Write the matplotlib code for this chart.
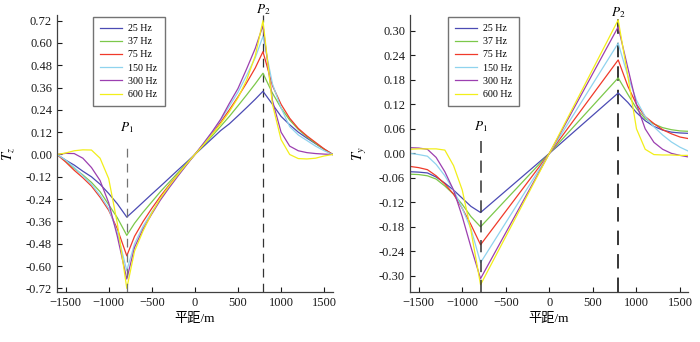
import matplotlib

matplotlib.use("Agg")
import matplotlib.pyplot as plt

plt.rcParams["font.family"] = ["Liberation Serif", "Noto Sans CJK SC"]
plt.rcParams["mathtext.fontset"] = "stix"

labels = ["25 Hz", "37 Hz", "75 Hz", "150 Hz", "300 Hz", "600 Hz"]
colors = ["#4b4bb4", "#7cc84a", "#f03a2a", "#8fd3ee", "#9c3fb0", "#f2ef1a"]
p1_x = -790
p2_x = 790

# left panel, T_z
x_tz = [-1600, -1500, -1400, -1300, -1200, -1100, -1000, -900, -790,
        -700, -600, -500, -400, -300, -200, -100, 0,
        100, 200, 300, 400, 500, 600, 700, 790,
        900, 1000, 1100, 1200, 1300, 1400, 1500, 1600]
tz_25 = [0, -0.03, -0.057, -0.09, -0.12, -0.16, -0.21, -0.265, -0.337,
         -0.299, -0.256, -0.213, -0.171, -0.128, -0.085, -0.043, 0,
         0.043, 0.086, 0.129, 0.165, 0.208, 0.252, 0.297, 0.34,
         0.27, 0.205, 0.16, 0.12, 0.088, 0.058, 0.028, 0]
tz_37 = [0, -0.035, -0.075, -0.11, -0.15, -0.2, -0.27, -0.34, -0.435,
         -0.37, -0.31, -0.255, -0.2, -0.15, -0.1, -0.05, 0,
         0.05, 0.1, 0.152, 0.205, 0.262, 0.32, 0.38, 0.437,
         0.33, 0.25, 0.185, 0.135, 0.095, 0.06, 0.028, 0]
tz_75 = [0, -0.04, -0.085, -0.125, -0.17, -0.23, -0.3, -0.4, -0.545,
         -0.44, -0.36, -0.29, -0.225, -0.165, -0.11, -0.055, 0,
         0.055, 0.115, 0.175, 0.24, 0.31, 0.385, 0.465, 0.553,
         0.37, 0.27, 0.195, 0.14, 0.1, 0.065, 0.03, 0]
tz_150 = [0, -0.03, -0.07, -0.115, -0.16, -0.22, -0.29, -0.42, -0.625,
          -0.48, -0.385, -0.31, -0.24, -0.175, -0.115, -0.057, 0,
          0.058, 0.12, 0.185, 0.26, 0.335, 0.425, 0.52, 0.635,
          0.38, 0.25, 0.15, 0.105, 0.075, 0.045, 0.02, 0]
tz_300 = [0, 0.006, 0.005, -0.02, -0.07, -0.14, -0.26, -0.44, -0.67,
          -0.5, -0.4, -0.32, -0.245, -0.18, -0.118, -0.058, 0,
          0.06, 0.122, 0.19, 0.275, 0.355, 0.46, 0.57, 0.693,
          0.29, 0.12, 0.045, 0.02, 0.01, 0.005, 0.002, 0]
tz_600 = [0, 0.008, 0.02, 0.025, 0.024, -0.02, -0.13, -0.37, -0.72,
          -0.52, -0.41, -0.315, -0.235, -0.17, -0.11, -0.053, 0,
          0.052, 0.108, 0.165, 0.23, 0.305, 0.4, 0.53, 0.72,
          0.27, 0.08, 0.0, -0.022, -0.024, -0.02, -0.008, 0]

# right panel, T_y
x_ty = [-1600, -1500, -1400, -1300, -1200, -1100, -1000, -900, -790,
        0, 790, 900, 1000, 1100, 1200, 1300, 1400, 1500, 1600]
ty_25 = [-0.045, -0.046, -0.048, -0.058, -0.073, -0.09, -0.11, -0.13, -0.145,
         0, 0.148, 0.125, 0.1, 0.08, 0.066, 0.057, 0.052, 0.05, 0.049]
ty_37 = [-0.051, -0.052, -0.055, -0.063, -0.08, -0.1, -0.125, -0.155, -0.18,
         0, 0.185, 0.145, 0.11, 0.085, 0.072, 0.063, 0.058, 0.055, 0.054]
ty_75 = [-0.032, -0.035, -0.04, -0.055, -0.075, -0.1, -0.135, -0.175, -0.224,
         0, 0.229, 0.165, 0.12, 0.09, 0.073, 0.058, 0.048, 0.04, 0.036]
ty_150 = [0.0, -0.003, -0.007, -0.027, -0.055, -0.09, -0.135, -0.185, -0.268,
          0, 0.27, 0.19, 0.13, 0.09, 0.065, 0.045, 0.028, 0.015, 0.005]
ty_300 = [0.014, 0.013, 0.01, -0.01, -0.045, -0.09, -0.155, -0.23, -0.307,
          0, 0.31, 0.21, 0.12, 0.06, 0.027, 0.01, 0.0, -0.005, -0.009]
ty_600 = [0.01, 0.011, 0.011, 0.011, 0.008, -0.03, -0.09, -0.19, -0.322,
          0, 0.327, 0.19, 0.06, 0.01, -0.003, -0.004, -0.004, -0.005, -0.005]

tz_series = [tz_25, tz_37, tz_75, tz_150, tz_300, tz_600]
ty_series = [ty_25, ty_37, ty_75, ty_150, ty_300, ty_600]
tz_ticks = [-0.72, -0.60, -0.48, -0.36, -0.24, -0.12, 0.0, 0.12, 0.24, 0.36, 0.48, 0.60, 0.72]
ty_ticks = [-0.30, -0.24, -0.18, -0.12, -0.06, 0.0, 0.06, 0.12, 0.18, 0.24, 0.30]
x_ticks = [-1500, -1000, -500, 0, 500, 1000, 1500]

fig = plt.figure(figsize=(7.0, 3.42), dpi=100)
ax1 = fig.add_axes([0.0814, 0.146, 0.394, 0.81])
ax2 = fig.add_axes([0.5857, 0.146, 0.397, 0.81])


def style(ax, xlim, ylim, yticks, ylabel, leg_x):
    ax.set_xlim(*xlim)
    ax.set_ylim(*ylim)
    ax.set_xticks(x_ticks)
    ax.set_yticks(yticks, [f"{t:.2f}" for t in yticks])
    ax.spines["top"].set_visible(False)
    ax.spines["right"].set_visible(False)
    for s in ("left", "bottom"):
        ax.spines[s].set_linewidth(0.9)
        ax.spines[s].set_color("0.25")
    ax.tick_params(direction="in", length=3.5, width=0.8, labelsize=9, colors="0.1")
    ax.set_xlabel("平距/m", fontsize=9.5, labelpad=3)
    ax.set_ylabel(ylabel, fontsize=10.5, labelpad=7)
    ax.legend(loc="upper left", bbox_to_anchor=(leg_x, 1.0), fontsize=7.2,
              frameon=True, fancybox=False, edgecolor="0.45", framealpha=1,
              handlelength=2.2, handletextpad=0.6, labelspacing=0.42,
              borderpad=0.7, borderaxespad=0.2)


# T_z panel
ylim1 = (-0.74, 0.75)
for ys, c, lb in zip(tz_series, colors, labels):
    ax1.plot(x_tz, ys, color=c, lw=0.9, label=lb)
ax1.axvline(p1_x, ymin=0, ymax=(0.06 - ylim1[0]) / (ylim1[1] - ylim1[0]),
            color="0.45", lw=0.9, dashes=(7, 5))
ax1.axvline(p2_x, color="0.2", lw=0.9, dashes=(7, 5), zorder=0)
ax1.text(p1_x, 0.145, "$P_1$", ha="center", va="center", fontsize=9.5)
ax1.text(p2_x, 0.78, "$P_2$", ha="center", va="center", fontsize=9.5)
style(ax1, (-1600, 1600), ylim1, tz_ticks, "$T_z$", 0.125)

# T_y panel
ylim2 = (-0.34, 0.339)
for ys, c, lb in zip(ty_series, colors, labels):
    ax2.plot(x_ty, ys, color=c, lw=0.9, label=lb)
ax2.axvline(p1_x, ymin=0, ymax=(0.03 - ylim2[0]) / (ylim2[1] - ylim2[0]),
            color="0.2", lw=1.1, dashes=(8, 5))
ax2.axvline(p2_x, color="0.15", lw=1.3, dashes=(8, 5), zorder=0)
ax2.text(p1_x, 0.066, "$P_1$", ha="center", va="center", fontsize=9.5)
ax2.text(p2_x, 0.345, "$P_2$", ha="center", va="center", fontsize=9.5)
style(ax2, (-1600, 1590), ylim2, ty_ticks, "$T_y$", 0.13)

fig.savefig("out.png", dpi=100)
plt.close(fig)
